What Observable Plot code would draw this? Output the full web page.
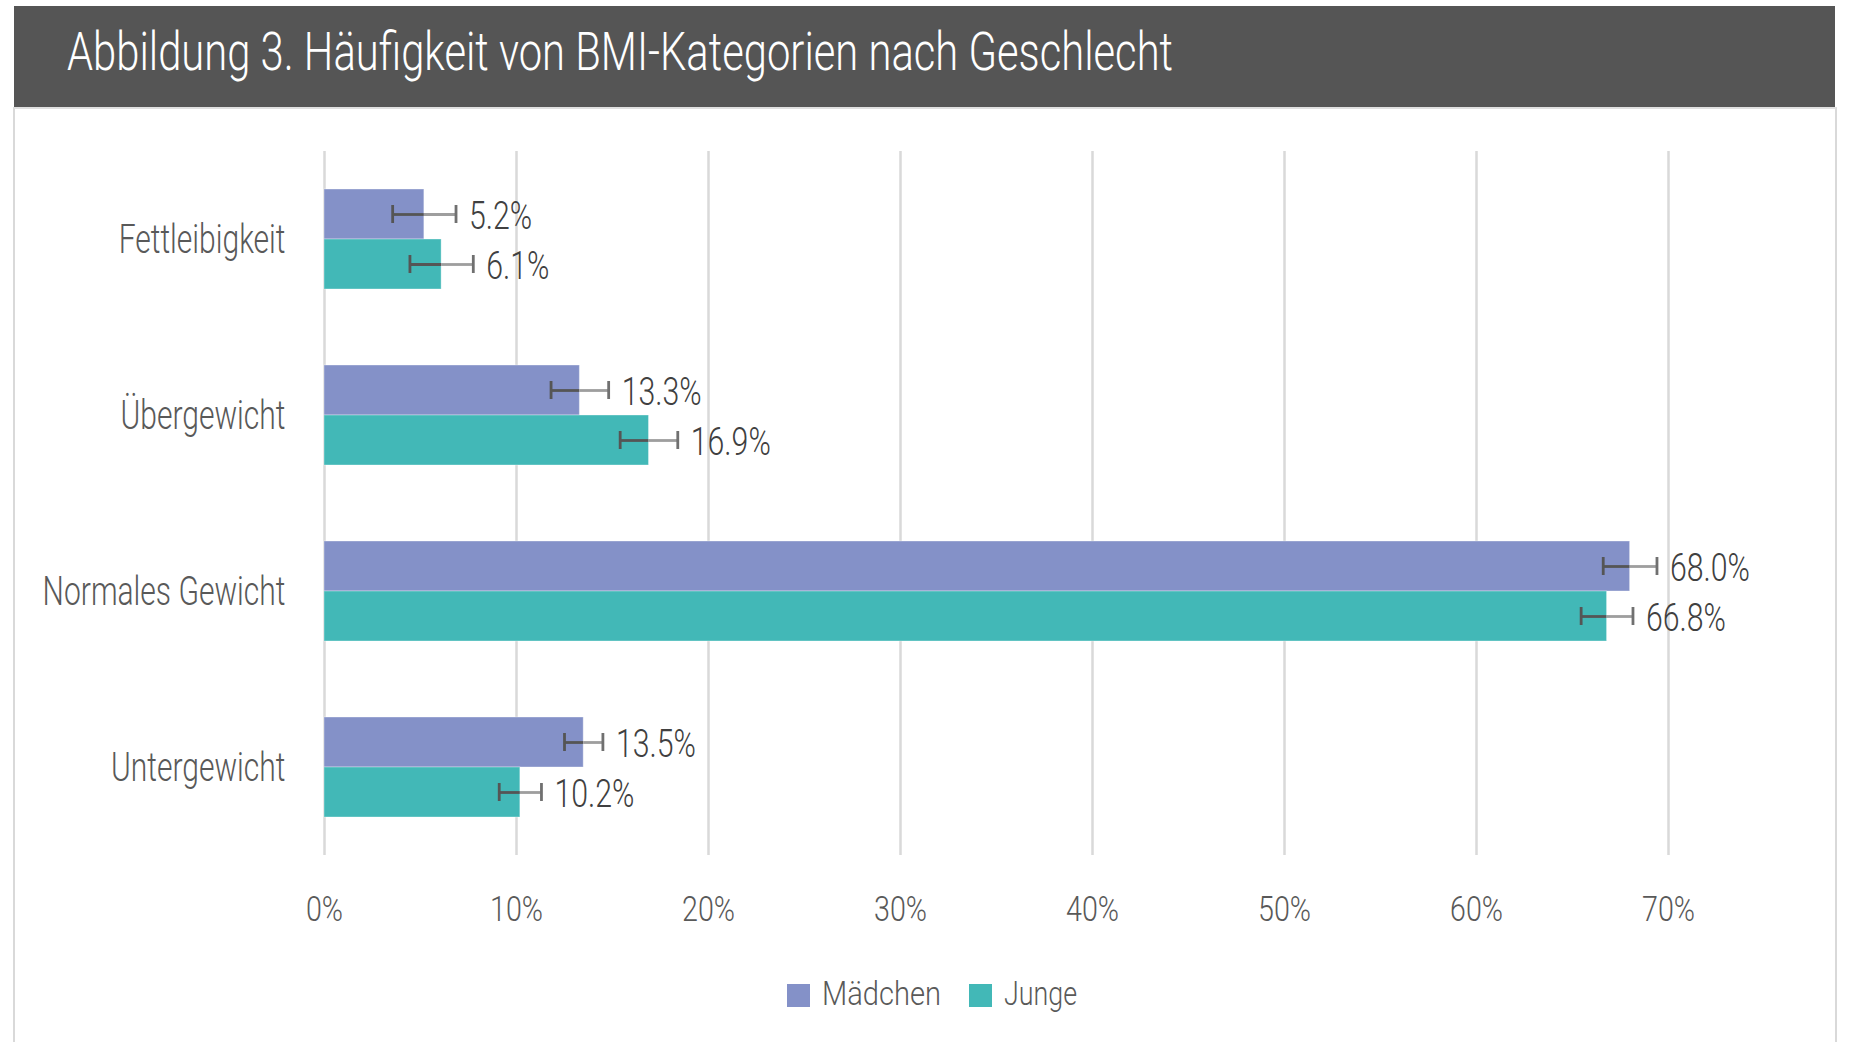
<!DOCTYPE html>
<html>
<head>
<meta charset="utf-8">
<script src="https://cdn.jsdelivr.net/npm/d3@7"></script>
<script src="https://cdn.jsdelivr.net/npm/@observablehq/plot@0.6"></script>
<style>
  html, body { margin: 0; padding: 0; background: #fff; }
  body { width: 1849px; height: 1042px; position: relative; overflow: hidden;
         font-family: Roboto, 'Noto Sans', sans-serif; font-weight: 300; }
  #header { position: absolute; left: 14px; top: 6px; width: 1821px; height: 101px; background: #555555; }
  #title { position: absolute; left: 53px; top: 19px; color: #fff; font-size: 54px; white-space: nowrap;
           transform-origin: 0 0; line-height: 1; font-weight: 300; }
  #panel { position: absolute; left: 13px; top: 107px; width: 1820px; height: 960px;
           border-left: 2px solid #d9d9d9; border-right: 2px solid #d9d9d9; border-top: 2px solid #e0e0e0; }
  #chart { position: absolute; left: 0; top: 107px; }
  #legend { position: absolute; left: 0; top: 960px; width: 1864px; height: 66px; display: flex;
            justify-content: center; align-items: center; font-size: 33px; color: #595959; }
  .item { display: flex; align-items: center; margin: 0 14px; }
  .sw { width: 23px; height: 23px; margin-right: 12px; margin-top: 4px; }
  .lbl { display: inline-block; transform-origin: 0 50%; }
</style>
</head>
<body>
<div id="header"><div id="title">Abbildung 3. Häufigkeit von BMI-Kategorien nach Geschlecht</div></div>
<div id="panel"></div>
<div id="chart"></div>
<div id="legend"></div>
<script>
const categories = ["Fettleibigkeit", "Übergewicht", "Normales Gewicht", "Untergewicht"];
const series = ["Mädchen", "Junge"];
const maedchen = [5.2, 13.3, 68.0, 13.5];
const junge = [6.1, 16.9, 66.8, 10.2];
const maedchenErr = [1.65, 1.5, 1.4, 1.0];
const jungeErr = [1.65, 1.5, 1.35, 1.1];
const xTicks = [0, 10, 20, 30, 40, 50, 60, 70];
const colors = ["#8491c8", "#42b8b7"];

const data = [];
categories.forEach((c, i) => {
  data.push({cat: c, sex: series[0], value: maedchen[i], err: maedchenErr[i]});
  data.push({cat: c, sex: series[1], value: junge[i], err: jungeErr[i]});
});
const dm = data.filter(d => d.sex === series[0]);
const dj = data.filter(d => d.sex === series[1]);

function seriesMarks(d, color, top) {
  const off = top ? -25 : 25;
  return [
    Plot.barX(d, {y: "cat", x: "value", fill: color, stroke: "#ffffff", strokeOpacity: 0.35, strokeWidth: 1,
                  insetTop: top ? 0 : 50, insetBottom: top ? 50 : 0}),
    Plot.ruleY(d, {y: "cat", x1: v => v.value - v.err, x2: "value", dy: off, stroke: "#555555", strokeWidth: 2.8}),
    Plot.ruleY(d, {y: "cat", x1: "value", x2: v => v.value + v.err, dy: off, stroke: "#9e9e9e", strokeWidth: 2.8}),
    Plot.tickX(d, {y: "cat", x: v => v.value - v.err, stroke: "#555555", strokeWidth: 2.8,
                   insetTop: top ? 16 : 66, insetBottom: top ? 66 : 16}),
    Plot.tickX(d, {y: "cat", x: v => v.value + v.err, stroke: "#707070", strokeWidth: 2.8,
                   insetTop: top ? 16 : 66, insetBottom: top ? 66 : 16}),
    Plot.text(d, {y: "cat", x: v => v.value + v.err, text: v => v.value.toFixed(1) + "%", dx: 13, dy: off + 2,
                  textAnchor: "start", fill: "#404040", fontSize: 38, className: "vlabel"})
  ];
}

const chart = Plot.plot({
  width: 1849,
  height: 843,
  marginLeft: 324,
  marginRight: 181,
  marginTop: 44,
  marginBottom: 95,
  style: {fontFamily: "Roboto, 'Noto Sans', sans-serif", fontWeight: 300, fontSize: "34px", color: "#595959", background: "transparent"},
  x: {domain: [0, 70]},
  y: {domain: categories, paddingInner: 0.43, paddingOuter: 0.215},
  marks: [
    Plot.ruleX(xTicks, {stroke: "#d9d9d9", strokeWidth: 2.5}),
    ...seriesMarks(dm, colors[0], true),
    ...seriesMarks(dj, colors[1], false),
    Plot.axisY({tickSize: 0, tickPadding: 39, label: null, fontSize: 41, fill: "#595959"}),
    Plot.axisX({ticks: xTicks, tickSize: 0, tickPadding: 40, tickFormat: d => d + "%", label: null, fontSize: 36, fill: "#595959"})
  ]
});
document.getElementById("chart").appendChild(chart);

// horizontally condense SVG texts to match the narrow typeface of the reference
function condense(texts, refText, targetWidth) {
  const arr = Array.from(texts);
  const ref = arr.find(t => t.textContent === refText) || arr[0];
  if (!ref) return;
  const s = targetWidth / ref.getComputedTextLength();
  arr.forEach(t => {
    const x = +t.getAttribute("x") || 0;
    const tr = t.getAttribute("transform") || "";
    t.setAttribute("transform", `${tr} translate(${x},0) scale(${s},1) translate(${-x},0)`);
  });
}
condense(chart.querySelectorAll('g[aria-label="y-axis tick label"] text'), "Normales Gewicht", 243);
condense(chart.querySelectorAll('g[aria-label="x-axis tick label"] text'), "70%", 53);
condense(chart.querySelectorAll('g.vlabel text, .vlabel text'), "68.0%", 80);

const legend = document.getElementById("legend");
const legendTargets = [119, 73];
series.forEach((s, i) => {
  const it = document.createElement("div");
  it.className = "item";
  it.innerHTML = `<div class="sw" style="background:${colors[i]}"></div><span class="lbl">${s}</span>`;
  legend.appendChild(it);
  const lbl = it.querySelector(".lbl");
  const w = lbl.getBoundingClientRect().width;
  const k = legendTargets[i] / w;
  lbl.style.transform = `scaleX(${k})`;
  lbl.style.marginRight = `${-(w - legendTargets[i])}px`;
});

// fit title width to the reference layout
const t = document.getElementById("title");
const w = t.getBoundingClientRect().width;
t.style.transform = `scaleX(${1106 / w})`;
</script>
</body>
</html>
